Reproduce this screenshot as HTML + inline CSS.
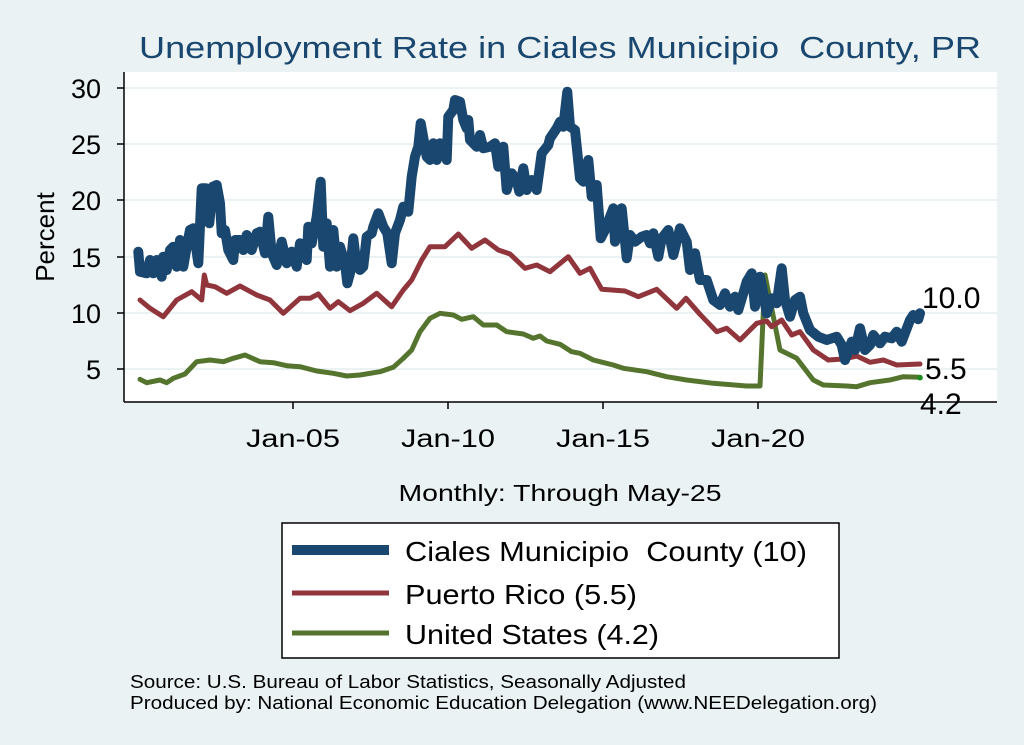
<!DOCTYPE html>
<html><head><meta charset="utf-8"><style>
html,body{margin:0;padding:0;background:#eaf2f3;}
svg{display:block;font-family:"Liberation Sans",Arial,sans-serif;}
</style></head><body>
<svg id="s" width="1024" height="745" viewBox="0 0 1024 745" xmlns="http://www.w3.org/2000/svg">
<rect width="1024" height="745" fill="#eaf2f3"/>
<rect x="124" y="72" width="873" height="330" fill="#fff"/>
<g stroke="#eaf2f3" stroke-width="2">
<line x1="124" x2="997" y1="88" y2="88"/><line x1="124" x2="997" y1="144" y2="144"/>
<line x1="124" x2="997" y1="200" y2="200"/><line x1="124" x2="997" y1="257" y2="257"/>
<line x1="124" x2="997" y1="313" y2="313"/><line x1="124" x2="997" y1="369" y2="369"/>
</g>
<text x="560" y="58" text-anchor="middle" font-size="31" fill="#1a476f" textLength="842" lengthAdjust="spacingAndGlyphs">Unemployment Rate in Ciales Municipio&#160; County, PR</text>
<g id="lines" fill="none" stroke-linejoin="round" stroke-linecap="round"></g>
<g stroke="#000" stroke-width="1.5">
<line x1="124" y1="72" x2="124" y2="402"/><line x1="124" y1="402" x2="997" y2="402"/>
<line x1="117" x2="124" y1="88" y2="88"/><line x1="117" x2="124" y1="144" y2="144"/>
<line x1="117" x2="124" y1="200" y2="200"/><line x1="117" x2="124" y1="257" y2="257"/>
<line x1="117" x2="124" y1="313" y2="313"/><line x1="117" x2="124" y1="369" y2="369"/>
<line x1="293" x2="293" y1="402" y2="409"/><line x1="448" x2="448" y1="402" y2="409"/>
<line x1="603" x2="603" y1="402" y2="409"/><line x1="758" x2="758" y1="402" y2="409"/>
</g>
<g font-size="27" text-anchor="end" fill="#000">
<text x="101" y="98">30</text><text x="101" y="154">25</text><text x="101" y="210">20</text>
<text x="101" y="267">15</text><text x="101" y="323">10</text><text x="101" y="379">5</text>
</g>
<text transform="translate(54,237) rotate(-90)" font-size="26" text-anchor="middle">Percent</text>
<g font-size="25" text-anchor="middle">
<text x="293" y="447" textLength="94" lengthAdjust="spacingAndGlyphs">Jan-05</text><text x="448" y="447" textLength="94" lengthAdjust="spacingAndGlyphs">Jan-10</text>
<text x="603" y="447" textLength="94" lengthAdjust="spacingAndGlyphs">Jan-15</text><text x="758" y="447" textLength="94" lengthAdjust="spacingAndGlyphs">Jan-20</text>
</g>
<g font-size="30">
<text x="922" y="308">10.0</text><text x="925" y="379">5.5</text><text x="920" y="414">4.2</text>
</g>
<text x="560" y="501" font-size="23" text-anchor="middle" textLength="323" lengthAdjust="spacingAndGlyphs">Monthly: Through May-25</text>
<rect x="282" y="523" width="557" height="135" fill="#fff" stroke="#000" stroke-width="1.5"/>
<line x1="292" x2="389" y1="550" y2="550" stroke="#1a476f" stroke-width="10"/>
<line x1="292" x2="389" y1="593" y2="593" stroke="#90353b" stroke-width="5"/>
<line x1="292" x2="389" y1="633" y2="633" stroke="#55752f" stroke-width="5"/>
<g font-size="28">
<text x="405" y="561" textLength="402" lengthAdjust="spacingAndGlyphs">Ciales Municipio&#160; County (10)</text>
<text x="405" y="604" textLength="232" lengthAdjust="spacingAndGlyphs">Puerto Rico (5.5)</text>
<text x="405" y="644" textLength="254" lengthAdjust="spacingAndGlyphs">United States (4.2)</text>
</g>
<g font-size="18">
<text x="130" y="688" textLength="556" lengthAdjust="spacingAndGlyphs">Source: U.S. Bureau of Labor Statistics, Seasonally Adjusted</text>
<text x="130" y="709" textLength="747" lengthAdjust="spacingAndGlyphs">Produced by: National Economic Education Delegation (www.NEEDelegation.org)</text>
</g>
</svg>
<script>
function z1(a){return a.filter(p=>p[0]<=1500).map(p=>[100+p[0]/3,60+p[1]/3]);}
function z2(a){return a.filter(p=>p[0]>=60).map(p=>[580+p[0]/3,60+p[1]/3]);}
var C1=[[115,575],[120,635],[140,640],[150,600],[160,640],[170,600],[185,650],[190,590],[200,630],[210,570],[220,560],[230,620],[240,540],[250,620],[260,560],[270,510],[280,505],[295,610],[305,385],[318,385],[328,490],[338,380],[350,375],[360,430],[365,520],[375,510],[385,570],[400,600],[405,540],[420,540],[430,570],[440,525],[455,570],[470,520],[480,515],[495,580],[505,470],[515,580],[530,615],[545,545],[560,610],[575,575],[590,620],[600,550],[620,600],[625,500],[635,550],[650,470],[662,365],[670,560],[680,490],[690,620],[700,510],[710,620],[720,560],[735,610],[742,670],[750,640],[760,535],[770,620],[780,630],[790,620],[800,530],[815,520],[820,500],[835,460],[850,500],[862,520],[875,610],[885,520],[900,480],[910,440],[925,455],[935,350],[945,290],[955,260],[962,190],[980,290],[990,300],[1000,250],[1010,300],[1020,250],[1030,270],[1040,300],[1045,170],[1060,150],[1065,120],[1080,125],[1090,180],[1100,205],[1105,180],[1110,240],[1130,260],[1140,225],[1150,265],[1170,260],[1185,250],[1195,320],[1210,260],[1220,390],[1235,340],[1250,360],[1258,395],[1270,325],[1280,390],[1295,360],[1310,390],[1325,280],[1345,255],[1350,235],[1370,205],[1380,185],[1390,200],[1402,95],[1410,200],[1425,210],[1440,355],[1450,365],[1465,300],[1475,410],[1490,375]];
var C2=[[62,535],[75,510],[100,445],[105,545],[115,515],[125,445],[140,595],[150,525],[165,545],[185,530],[200,525],[210,550],[220,520],[235,590],[245,535],[265,510],[280,585],[300,505],[320,545],[330,630],[345,580],[360,660],[380,660],[400,720],[420,735],[435,700],[450,740],[465,710],[475,750],[490,700],[500,665],[515,640],[525,740],[540,650],[550,700],[560,760],[575,715],[590,730],[605,625],[615,720],[630,770],[645,720],[660,710],[670,760],[690,810],[715,830],[740,840],[770,830],[785,855],[795,900],[815,845],[825,870],[840,805],[855,870],[870,855],[880,825],[900,850],[915,830],[935,835],[950,815],[965,845],[990,780],[1000,765],[1015,778],[1020,760]];
var P1=[[120,720],[150,745],[190,770],[230,720],[275,695],[305,720],[313,645],[320,675],[345,680],[380,700],[420,678],[470,705],[510,720],[550,760],[600,715],[630,715],[655,702],[690,745],[715,725],[750,752],[790,730],[830,700],[875,740],[910,690],[935,660],[965,600],[990,560],[1035,560],[1075,522],[1115,565],[1155,540],[1195,570],[1230,582],[1275,625],[1310,615],[1350,635],[1405,590],[1440,640],[1470,625]];
var P2=[[65,688],[135,693],[175,710],[230,688],[290,745],[318,715],[360,763],[410,815],[440,805],[480,840],[530,790],[560,783],[575,800],[605,780],[635,825],[660,815],[700,870],[745,900],[790,897],[830,888],[870,907],[910,900],[950,915],[1020,912]];
var U1=[[120,958],[140,968],[180,960],[200,968],[220,955],[255,942],[290,905],[330,900],[370,905],[400,895],[435,885],[480,905],[520,908],[560,917],[600,920],[650,933],[700,940],[740,948],[780,945],[840,935],[880,922],[910,895],[935,870],[960,815],[990,775],[1020,760],[1060,765],[1085,778],[1120,770],[1150,795],[1190,795],[1220,815],[1270,822],[1300,835],[1320,828],[1340,843],[1380,853],[1415,875],[1440,880],[1480,900]];
var U2=[[60,905],[100,915],[130,925],[200,935],[260,950],[320,960],[400,970],[500,978],[540,978],[555,645],[570,720],[600,870],[650,895],[700,960],[730,975],[800,978],[830,980],[870,968],[930,960],[970,950],[1020,952]];
var g=document.getElementById('lines');
function add(pts,col,w){var p=document.createElementNS('http://www.w3.org/2000/svg','polyline');
p.setAttribute('points',pts.map(q=>q[0].toFixed(1)+','+q[1].toFixed(1)).join(' '));
p.setAttribute('stroke',col);p.setAttribute('stroke-width',w);g.appendChild(p);}
add(z1(U1).concat(z2(U2)),'#55752f',5);
add(z1(P1).concat(z2(P2)),'#90353b',5);
add(z1(C1).concat(z2(C2)),'#1a476f',10);
var c=document.createElementNS('http://www.w3.org/2000/svg','circle');
c.setAttribute('cx',920);c.setAttribute('cy',377.7);c.setAttribute('r',2.8);c.setAttribute('fill','#1a8a1a');g.appendChild(c);
</script>
</body></html>
